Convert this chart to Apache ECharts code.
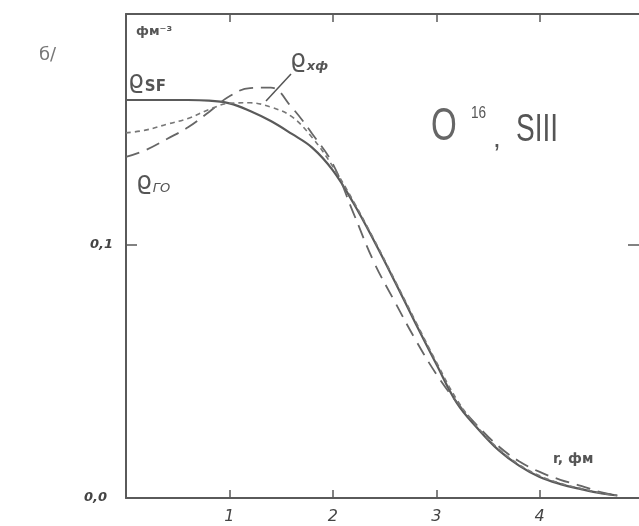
<!DOCTYPE html>
<head>
    <meta charset="utf-8">
    <title>O16 SIII</title>
    <script src="https://cdn.jsdelivr.net/npm/echarts@6/dist/echarts.min.js"></script>
    <style>
        body { margin: 0; background: #fff; }
    </style>
</head>
<body>
    <div id="main" style="width:639px;height:526px"></div>
    <script type="text/javascript">
        // r, фм
        var rVals = [0, 0.2, 0.4, 0.6, 0.8, 1.0, 1.2, 1.4, 1.6, 1.8, 2.0, 2.2, 2.4, 2.6, 2.8, 3.0, 3.2, 3.4, 3.6, 3.8, 4.0, 4.2, 4.4, 4.6, 4.75];
        // плотности, фм^-3
        var rhoSF = [0.1573, 0.1573, 0.1573, 0.1573, 0.1571, 0.1560, 0.1530, 0.1490, 0.1440, 0.1385, 0.1295, 0.1165, 0.1015, 0.0855, 0.0690, 0.0530, 0.0375, 0.0275, 0.0190, 0.0128, 0.0083, 0.0055, 0.0035, 0.0018, 0.0010];
        var rhoGO = [0.1348, 0.1377, 0.1420, 0.1465, 0.1525, 0.1588, 0.1620, 0.1622, 0.1545, 0.1440, 0.1320, 0.1125, 0.0930, 0.0775, 0.0625, 0.0490, 0.0378, 0.0285, 0.0205, 0.0145, 0.0103, 0.0072, 0.0048, 0.0022, 0.0010];
        var rhoXF = [0.1443, 0.1455, 0.1478, 0.1500, 0.1535, 0.1560, 0.1562, 0.1545, 0.1508, 0.1425, 0.1310, 0.1172, 0.1020, 0.0860, 0.0698, 0.0538, 0.0388, 0.0280, 0.0195, 0.0132, 0.0088, 0.0058, 0.0037, 0.0019, 0.0010];
        var xTicks = [1, 2, 3, 4];
        var yTicks = [0, 0.1];
        var yTickLabels = ['0,0', '0,1'];

        function pairs(ys) {
            var out = [];
            for (var i = 0; i < rVals.length; i++) out.push([rVals[i], ys[i]]);
            return out;
        }

        var ink = '#5a5a5a';
        var font = 'DejaVu Sans';
        var narrow = 'Liberation Sans';

        // рамка с засечками внутрь (без подписей)
        function frameX(pos) {
            return {
                type: 'value', position: pos, min: 0, max: 4.96, interval: 1,
                axisLine: { show: true, onZero: false, lineStyle: { color: ink, width: 2 } },
                axisTick: { inside: true, length: 8, customValues: xTicks, lineStyle: { color: ink, width: 1.5 } },
                axisLabel: { show: false },
                splitLine: { show: false }
            };
        }
        function frameY(pos, showLine) {
            return {
                type: 'value', position: pos, min: 0, max: 0.1913, interval: 0.1,
                axisLine: { show: showLine, onZero: false, lineStyle: { color: ink, width: 2 } },
                axisTick: { show: true, inside: true, length: 11, customValues: [0.1], lineStyle: { color: ink, width: 1.5 } },
                axisLabel: { show: false },
                splitLine: { show: false }
            };
        }

        var myChart = echarts.init(document.getElementById('main'));
        var option = {
            backgroundColor: '#fff',
            animation: false,
            grid: { left: 126, right: 0, top: 14, bottom: 28 },
            xAxis: [
                {
                    type: 'value', position: 'bottom', min: 0, max: 4.96, interval: 1,
                    axisLine: { show: false, onZero: false },
                    axisTick: { show: false },
                    splitLine: { show: false },
                    axisLabel: {
                        color: '#444', fontSize: 16, fontStyle: 'italic', margin: 11,
                        fontFamily: font, customValues: xTicks
                    }
                },
                frameX('top'),
                frameX('bottom')
            ],
            yAxis: [
                {
                    type: 'value', position: 'left', min: 0, max: 0.1913, interval: 0.1,
                    axisLine: { show: false, onZero: false },
                    axisTick: { show: false },
                    splitLine: { show: false },
                    axisLabel: {
                        color: '#444', fontSize: 13, fontStyle: 'italic', fontWeight: 'bold', margin: 13,
                        fontFamily: font, customValues: yTicks,
                        formatter: function (v) {
                            var i = Math.round(v * 10);
                            return i === 0 ? '{z|' + yTickLabels[0] + '}' : yTickLabels[i];
                        },
                        rich: { z: { fontSize: 13, fontStyle: 'italic', fontWeight: 'bold', color: '#444', fontFamily: font, padding: [0, 6, 0, 0] } }
                    }
                },
                frameY('right', false),
                frameY('left', true)
            ],
            series: [
                {
                    name: 'ϱSF', type: 'line', data: pairs(rhoSF), smooth: 0.4, showSymbol: false,
                    lineStyle: { color: ink, width: 2.2, type: 'solid' }
                },
                {
                    name: 'ϱГО', type: 'line', data: pairs(rhoGO), smooth: 0.4, showSymbol: false,
                    lineStyle: { color: '#666', width: 1.8, type: [14, 8] }
                },
                {
                    name: 'ϱхф', type: 'line', data: pairs(rhoXF), smooth: 0.4, showSymbol: false,
                    lineStyle: { color: '#777', width: 1.6, type: [5, 4] }
                }
            ],
            graphic: [
                { type: 'text', left: 39, top: 46, style: { text: 'б/', fontSize: 18, fill: '#777', fontFamily: font } },
                { type: 'text', left: 136, top: 25, style: { text: 'фм⁻³', fontSize: 13, fontWeight: 'bold', fill: '#555', fontFamily: font } },
                {
                    type: 'text', left: 128, top: 69,
                    style: {
                        text: '{a|ϱ}{b|SF}', fill: '#555',
                        rich: {
                            a: { fontSize: 25, fontFamily: font, fill: '#555' },
                            b: { fontSize: 15, fontFamily: font, fontWeight: 'bold', fill: '#555', padding: [12, 0, 0, 1] }
                        }
                    }
                },
                {
                    type: 'text', left: 136, top: 170,
                    style: {
                        text: '{a|ϱ}{b|ГО}', fill: '#555',
                        rich: {
                            a: { fontSize: 25, fontFamily: font, fill: '#555' },
                            b: { fontSize: 13, fontFamily: font, fontStyle: 'italic', fill: '#555', padding: [12, 0, 0, 1] }
                        }
                    }
                },
                {
                    type: 'text', left: 290, top: 48,
                    style: {
                        text: '{a|ϱ}{b|хф}', fill: '#555',
                        rich: {
                            a: { fontSize: 25, fontFamily: font, fill: '#555' },
                            b: { fontSize: 13, fontFamily: font, fontStyle: 'italic', fontWeight: 'bold', fill: '#555', padding: [12, 0, 0, 1] }
                        }
                    }
                },
                { type: 'line', shape: { x1: 291, y1: 74, x2: 266, y2: 101 }, style: { stroke: '#555', lineWidth: 1.5 } },
                { type: 'text', x: 431, y: 104, scaleX: 0.72, style: { text: 'O', fontSize: 46, fill: '#666', fontFamily: narrow } },
                { type: 'text', x: 471, y: 106, scaleX: 0.85, style: { text: '16', fontSize: 16, fill: '#555', fontFamily: narrow } },
                { type: 'text', x: 493, y: 125, style: { text: ',', fontSize: 28, fill: '#555', fontFamily: narrow } },
                { type: 'text', x: 516, y: 111, scaleX: 0.72, style: { text: 'SIII', fontSize: 39, fill: '#555', fontFamily: narrow } },
                { type: 'text', left: 553, top: 452, style: { text: 'r, фм', fontSize: 14, fontWeight: 'bold', fill: '#555', fontFamily: font } }
            ]
        };
        myChart.setOption(option);
    </script>
</body>
